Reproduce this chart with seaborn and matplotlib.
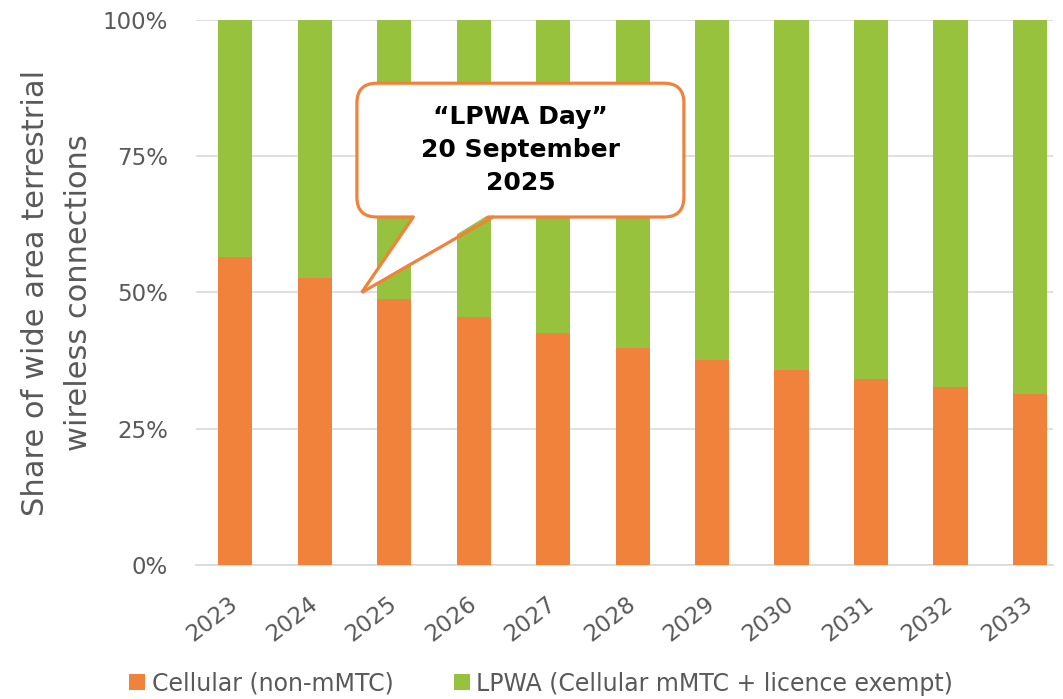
import matplotlib
matplotlib.use("Agg")
import matplotlib.pyplot as plt
import seaborn as sns
import pandas as pd
from matplotlib.patches import FancyBboxPatch, Polygon, Patch
from matplotlib.lines import Line2D

# ---- data ----
years = ["2023", "2024", "2025", "2026", "2027", "2028", "2029", "2030", "2031", "2032", "2033"]
cellular = [56.6, 52.7, 48.8, 45.5, 42.6, 39.9, 37.7, 35.8, 34.1, 32.6, 31.4]
lpwa = [100 - c for c in cellular]
series_names = ["Cellular (non-mMTC)", "LPWA (Cellular mMTC + licence exempt)"]
y_ticks = [0, 25, 50, 75, 100]
y_tick_labels = ["0%", "25%", "50%", "75%", "100%"]
y_label = "Share of wide area terrestrial\nwireless connections"
callout_text = "\u201cLPWA Day\u201d\n20 September\n2025"

ORANGE = "#F0823C"
GREEN = "#96C23E"
GRAY_TXT = "#595959"
GRID = "#D9D9D9"

sns.set_theme(style="white")
plt.rcParams["font.family"] = ["DejaVu Sans"]

df = pd.DataFrame({"year": years, "cellular": cellular, "lpwa": lpwa})
df["total"] = df["cellular"] + df["lpwa"]

fig = plt.figure(figsize=(10.63, 6.99), dpi=100)
ax = fig.add_axes([0.184, 0.1917, 0.8066, 0.7797])

sns.barplot(data=df, x="year", y="total", color=GREEN, width=0.43,
            saturation=1, linewidth=0, ax=ax, zorder=3)
sns.barplot(data=df, x="year", y="cellular", color=ORANGE, width=0.43,
            saturation=1, linewidth=0, ax=ax, zorder=3)

ax.set_xlim(-0.5, 10.29)
ax.set_ylim(0, 100)
ax.set_yticks(y_ticks)
ax.set_yticklabels(y_tick_labels)
ax.set_xlabel("")
ax.yaxis.grid(True, color=GRID, linewidth=1.2, zorder=0)
ax.set_axisbelow(True)
for s in ["top", "right", "left"]:
    ax.spines[s].set_visible(False)
ax.spines["bottom"].set_color(GRID)
ax.spines["bottom"].set_linewidth(1.2)

ax.tick_params(axis="y", length=0, pad=20, labelsize=16.5, labelcolor=GRAY_TXT)
ax.tick_params(axis="x", length=0, pad=26, labelsize=16.5, labelcolor=GRAY_TXT)
for lbl in ax.get_xticklabels():
    lbl.set_rotation(38)
    lbl.set_ha("right")
    lbl.set_va("center")
    lbl.set_rotation_mode("anchor")

ax.set_ylabel(y_label, fontsize=22, color=GRAY_TXT, linespacing=1.6)
ax.yaxis.label.set_va("center")
ax.yaxis.set_label_coords(-0.162, 0.5)

# legend
handles = [Patch(facecolor=ORANGE, edgecolor="none"), Patch(facecolor=GREEN, edgecolor="none")]
fig.legend(handles, series_names, loc="center", bbox_to_anchor=(0.5092, 0.022), ncol=2,
           frameon=False, fontsize=17, labelcolor=GRAY_TXT, handlelength=0.68,
           handleheight=0.68, handletextpad=0.28, columnspacing=2.53)

# callout bubble
x_px = 79.4  # px per x unit
y_px = 5.45  # px per y unit
box_x0, box_x1 = 1.53, 5.645
box_y0, box_y1 = 63.85, 88.4
bubble = FancyBboxPatch((box_x0, box_y0), box_x1 - box_x0, box_y1 - box_y0,
                        boxstyle="round,pad=0,rounding_size=0.25",
                        mutation_aspect=x_px / y_px,
                        facecolor="white", edgecolor=ORANGE, linewidth=2.3,
                        zorder=5, clip_on=False)
ax.add_patch(bubble)
tip = (1.59, 50)
bl = (2.24, box_y0)
br = (3.24, box_y0)
cover = Polygon([(bl[0] + 0.02, box_y0 + 0.7), tip, (br[0] - 0.02, box_y0 + 0.7)],
                closed=True, facecolor="white", edgecolor="none", zorder=6, clip_on=False)
ax.add_patch(cover)
ax.add_line(Line2D([bl[0], tip[0], br[0]], [bl[1], tip[1], br[1]], color=ORANGE,
                   linewidth=2.3, solid_joinstyle="miter", zorder=7, clip_on=False))
ax.text((box_x0 + box_x1) / 2, (box_y0 + box_y1) / 2, callout_text, ha="center", va="center",
        fontsize=18, fontweight="bold", color="black", linespacing=1.48, zorder=8)

fig.savefig("out.png", dpi=100)
